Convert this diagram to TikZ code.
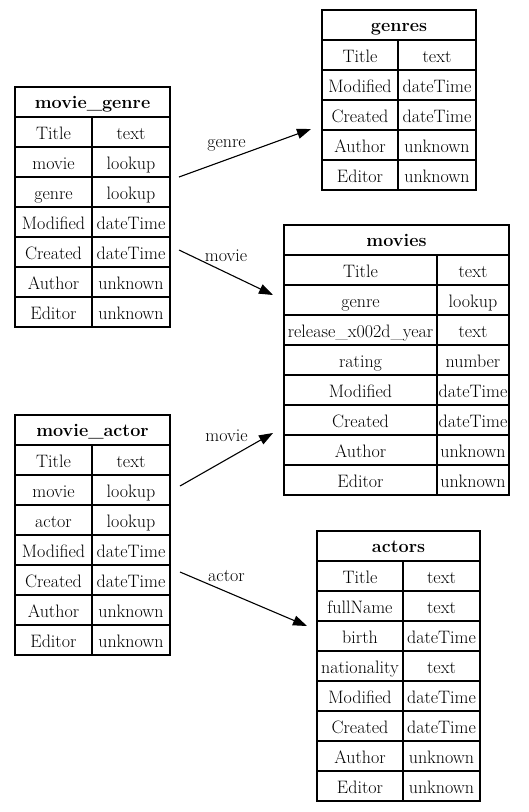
\documentclass[tikz,border=0pt]{standalone}
\usetikzlibrary{arrows.meta}

\tikzset{
  cellline/.style={line width=1.1pt, draw=black},
  celltext/.style={anchor=base, inner sep=0pt, font=\fontsize{18}{22}\selectfont},
  headtext/.style={anchor=base, inner sep=0pt, font=\fontsize{18}{22}\selectfont\bfseries},
  edgelabel/.style={anchor=base, inner sep=0pt, font=\fontsize{18}{22}\selectfont},
  rel/.style={line width=1.1pt, -{Triangle[length=14pt,width=10pt]}},
}

% name, left, divider, right, top, nrows, title, rows
\newcommand\dbtab[8]{%
  \draw[cellline] (#2,#5) rectangle (#4,{#5+30*(#6+1)});
  \draw[cellline] (#3,{#5+30}) -- (#3,{#5+30*(#6+1)});
  \node[headtext] (#1) at ({(#2+#4)/2},{#5+21}) {#7};
  \foreach \a/\b [count=\i] in {#8} {
    \draw[cellline] (#2,{#5+30*\i}) -- (#4,{#5+30*\i});
    \node[celltext] (#1-\i-n) at ({(#2+#3)/2},{#5+30*\i+22.5}) {\a};
    \node[celltext] (#1-\i-t) at ({(#3+#4)/2},{#5+30*\i+22.5}) {\b};
  }%
}

\begin{document}
\begin{tikzpicture}[x=1pt,y=-1pt]
\useasboundingbox[fill=white] (0,0) rectangle (529,812);

\dbtab{moviegenre}{15}{92}{170}{87}{7}{movie\_genre}
  {Title/text, movie/lookup, genre/lookup, Modified/dateTime, Created/dateTime, Author/unknown, Editor/unknown}

\dbtab{genres}{322}{398}{476}{10}{5}{genres}
  {Title/text, Modified/dateTime, Created/dateTime, Author/unknown, Editor/unknown}

\dbtab{movies}{284}{437}{509}{225}{8}{movies}
  {Title/text, genre/lookup, release\_x002d\_year/text, rating/number, Modified/dateTime, Created/dateTime, Author/unknown, Editor/unknown}

\dbtab{movieactor}{15}{92}{170}{415}{7}{movie\_actor}
  {Title/text, movie/lookup, actor/lookup, Modified/dateTime, Created/dateTime, Author/unknown, Editor/unknown}

\dbtab{actors}{317}{403}{480}{531}{8}{actors}
  {Title/text, fullName/text, birth/dateTime, nationality/text, Modified/dateTime, Created/dateTime, Author/unknown, Editor/unknown}

% connector end points
\coordinate (mgGenreOut) at (179,177);
\coordinate (genresIn) at (311,129);
\coordinate (mgMovieOut) at (179,250);
\coordinate (moviesIn1) at (273,295);
\coordinate (maMovieOut) at (180,486);
\coordinate (moviesIn2) at (273,433);
\coordinate (maActorOut) at (180,572);
\coordinate (actorsIn) at (307,626);

\draw[rel] (mgGenreOut) -- (genresIn);
\draw[rel] (mgMovieOut) -- (moviesIn1);
\draw[rel] (maMovieOut) -- (moviesIn2);
\draw[rel] (maActorOut) -- (actorsIn);

\node[edgelabel] (lblGenre) at (226.5,147.5) {genre};
\node[edgelabel] (lblMovie1) at (226,261.5) {movie};
\node[edgelabel] (lblMovie2) at (226.5,441.5) {movie};
\node[edgelabel] (lblActor) at (226.5,581.5) {actor};
\end{tikzpicture}
\end{document}
